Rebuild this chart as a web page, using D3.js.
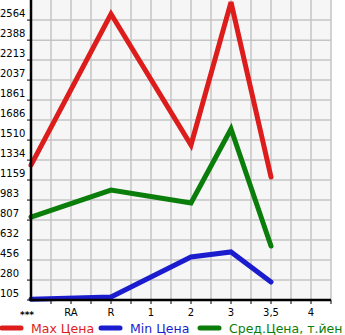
<!DOCTYPE html>
<html>
<head>
<meta charset="utf-8">
<script src="https://cdn.jsdelivr.net/npm/d3@7"></script>
<style>
body { margin: 0; background: #fff; }
svg { display: block; font-family: "DejaVu Sans", sans-serif; }
</style>
</head>
<body>
<div id="chart"></div>
<script>
// categories and values (null = no point)
const categories = ['***', 'RA', 'R', '1', '2', '3', '3,5', '4'];
const maxPrice = [1290, null, 2617, null, 1467, 2722, 1185, null];
const minPrice = [112, null, 131, null, 483, 527, 263, null];
const avgPrice = [834, null, 1071, null, 957, 1607, 579, null];
const yTicks = [105, 280, 456, 632, 807, 983, 1159, 1334, 1510, 1686, 1861, 2037, 2213, 2388, 2564];

const series = [
    { name: 'Max Цена', values: maxPrice, color: '#dd1c1c' },
    { name: 'Min Цена', values: minPrice, color: '#1c1ccf' },
    { name: 'Сред.Цена, т.йен', values: avgPrice, color: '#0a7d0a' }
];

const width = 345, height = 335;
const plotL = 31, plotR = 331, plotT = 0, plotB = 300;

const svg = d3.select('#chart')
    .append('svg')
    .attr('width', width)
    .attr('height', height);

const x = d3.scalePoint()
    .domain(categories)
    .range([plotL, plotL + 40 * (categories.length - 1)]);

const y = d3.scaleLinear()
    .domain([105, 105 + 175.7 * 15])
    .range([plotB, plotT]);

// plot background
svg.append('rect')
    .attr('x', plotL).attr('y', plotT)
    .attr('width', plotR - plotL).attr('height', plotB - plotT)
    .attr('fill', '#f6f6f6');

// vertical grid every half step
const half = x.step() / 2;
const vLines = d3.range(plotL + half, plotR + 1, half);
svg.selectAll('.vgrid')
    .data(vLines)
    .enter()
    .append('line')
    .attr('x1', d => d).attr('x2', d => d)
    .attr('y1', plotT).attr('y2', plotB)
    .attr('stroke', '#c4c4c4')
    .attr('stroke-width', 1.5);

svg.selectAll('.hgrid')
    .data(yTicks)
    .enter()
    .append('line')
    .attr('x1', plotL).attr('x2', plotR)
    .attr('y1', d => y(d)).attr('y2', d => y(d))
    .attr('stroke', '#c4c4c4')
    .attr('stroke-width', 1.5);

// lines
const line = d3.line()
    .x(d => x(d.cat))
    .y(d => y(d.v));

series.forEach(s => {
    const pts = categories
        .map((c, i) => ({ cat: c, v: s.values[i] }))
        .filter(d => d.v !== null);
    svg.append('path')
        .datum(pts)
        .attr('d', line)
        .attr('fill', 'none')
        .attr('stroke', s.color)
        .attr('stroke-width', 5)
        .attr('stroke-linejoin', 'miter')
        .attr('stroke-linecap', 'round');
});

// axes
svg.append('line')
    .attr('x1', plotL).attr('x2', plotL)
    .attr('y1', plotT).attr('y2', plotB + 1)
    .attr('stroke', '#000').attr('stroke-width', 2.5);
svg.append('line')
    .attr('x1', plotL - 1).attr('x2', plotR)
    .attr('y1', plotB).attr('y2', plotB)
    .attr('stroke', '#000').attr('stroke-width', 2.5);

// y ticks and labels
svg.selectAll('.ytick')
    .data(yTicks)
    .enter()
    .append('line')
    .attr('x1', plotL - 4).attr('x2', plotL)
    .attr('y1', d => y(d)).attr('y2', d => y(d))
    .attr('stroke', '#000');

svg.selectAll('.ylabel')
    .data(yTicks)
    .enter()
    .append('text')
    .attr('x', 0)
    .attr('y', d => y(d) - 3)
    .style('font-size', '10px')
    .style('fill', '#000')
    .text(d => d);

// x ticks and labels
svg.selectAll('.xtick')
    .data(vLines)
    .enter()
    .append('line')
    .attr('x1', d => d).attr('x2', d => d)
    .attr('y1', plotB).attr('y2', plotB + 4)
    .attr('stroke', '#000');

svg.selectAll('.xlabel')
    .data(categories)
    .enter()
    .append('text')
    .attr('x', d => x(d) - (d === '***' ? 4 : 0))
    .attr('y', d => d === '***' ? 318 : 316)
    .attr('text-anchor', 'middle')
    .style('font-size', d => d === '***' ? '9px' : '10px')
    .style('font-weight', d => d === '***' ? 'bold' : 'normal')
    .style('fill', '#000')
    .text(d => d);

// legend
const legendX = [0, 99, 198];
series.forEach((s, i) => {
    const g = svg.append('g').attr('transform', `translate(${legendX[i]},328)`);
    g.append('line')
        .attr('x1', 2).attr('x2', 21)
        .attr('y1', 0).attr('y2', 0)
        .attr('stroke', s.color)
        .attr('stroke-width', 5)
        .attr('stroke-linecap', 'round');
    g.append('text')
        .attr('x', 31)
        .attr('y', 5)
        .style('font-size', '12.5px')
        .style('fill', s.color)
        .text(s.name);
});
</script>
</body>
</html>
